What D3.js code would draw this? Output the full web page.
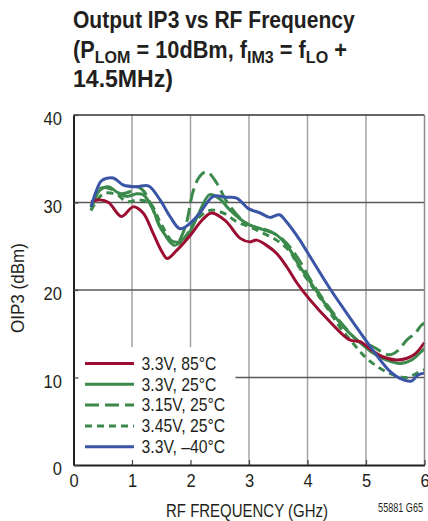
<!DOCTYPE html>
<html><head><meta charset="utf-8">
<script src="https://cdn.jsdelivr.net/npm/d3@7"></script>
<style>
html,body{margin:0;padding:0;background:#fff;}
svg text{font-family:"Liberation Sans",Arial,Helvetica,sans-serif;fill:#231f20;}
</style></head>
<body>
<svg id="chart" width="428" height="521"></svg>
<script>
// ---- data ----
const xTicks = [0,1,2,3,4,5,6];
const yTicks = [0,10,20,30,40];

const red85F = [0.3,0.45,0.6,0.82,1.02,1.19,1.36,1.51,1.6,1.76,1.99,2.2,2.36,2.6,2.85,3.02,3.13,3.3,3.47,3.65,3.82,4.04,4.38,4.72,4.9,5.1,5.27,5.52,5.7,5.84,6.0];
const red85V = [30.1,30.3,30.0,28.4,29.5,28.8,26.5,24.4,23.6,24.5,26.2,28.0,28.8,27.9,25.9,25.5,25.7,25.1,24.2,22.6,20.8,18.9,16.4,14.3,14.1,13.1,12.4,12.0,12.2,12.7,14.0];

const g25F = [0.3,0.45,0.6,0.74,0.91,1.08,1.19,1.34,1.48,1.65,1.8,1.99,2.13,2.33,2.5,2.68,2.96,3.24,3.47,3.7,3.82,4.1,4.38,4.67,4.9,5.12,5.35,5.58,5.78,5.92,6.0];
const g25V = [29.1,31.4,31.8,31.2,30.7,31.0,30.9,29.5,27.2,25.7,25.5,26.7,28.6,30.9,30.4,29.1,27.6,26.9,26.3,24.6,23.2,20.4,17.7,15.4,14.0,12.8,12.0,11.6,12.0,12.8,13.3];

const g315F = [0.3,0.45,0.62,0.8,0.95,1.08,1.2,1.35,1.5,1.73,1.9,2.05,2.16,2.28,2.45,2.62,2.85,3.02,3.36,3.59,3.82,4.1,4.38,4.67,4.9,5.1,5.3,5.41,5.55,5.7,5.84,5.95,6.0];
const g315V = [29.5,31.6,31.6,31.0,31.2,31.8,31.3,29.3,27.0,25.1,27.0,31.4,33.0,33.5,32.2,30.1,28.2,27.4,26.7,25.7,23.8,20.6,17.9,15.5,14.0,13.6,12.8,12.6,13.1,14.3,15.05,16.0,16.2];

const g345F = [0.3,0.51,0.74,0.91,1.11,1.31,1.5,1.75,1.9,2.1,2.33,2.56,2.79,3.02,3.24,3.47,3.7,3.82,4.1,4.38,4.55,4.78,5.01,5.24,5.47,5.7,5.87,6.0];
const g345V = [29.1,31.0,30.9,30.1,30.3,29.9,27.5,25.2,26.0,28.0,29.1,28.8,27.8,27.2,26.5,25.7,24.4,23.0,20.2,17.5,15.8,13.9,12.2,11.05,10.3,10.0,10.5,10.9];

const b40F = [0.3,0.4,0.48,0.68,0.85,1.08,1.28,1.48,1.65,1.82,1.99,2.16,2.39,2.6,2.79,2.99,3.19,3.36,3.52,3.64,3.87,3.99,4.38,4.78,5.12,5.41,5.58,5.78,5.89,6.0];
const b40V = [29.5,31.5,32.5,32.8,32.0,31.8,31.9,30.3,28.4,27.0,27.6,28.8,30.7,30.6,30.5,29.3,28.8,28.3,28.6,27.8,25.7,24.4,20.2,16.3,13.1,10.7,9.9,9.6,10.3,10.5];

const seriesNames = ["3.3V, 85°C","3.3V, 25°C","3.15V, 25°C","3.45V, 25°C","3.3V, \u201340°C"];
const seriesColors = ["#9b0d31","#3b8a4b","#3b8a4b","#3b8a4b","#3a55a5"];
const seriesDash = [null,null,"14,6","7,5",null];

const series = [
  {f:red85F,v:red85V},{f:g25F,v:g25V},{f:g315F,v:g315V},{f:g345F,v:g345V},{f:b40F,v:b40V}
].map((s,i)=>({name:seriesNames[i],color:seriesColors[i],dash:seriesDash[i],
  pts:s.f.map((f,j)=>[f,s.v[j]])}));

// ---- helpers: condense text horizontally to a target width ----
function place(sel, x, y, sx, rot){
  sel.attr("x",0).attr("y",0)
     .attr("transform",`translate(${x},${y})`+(rot?` rotate(${rot})`:"")+` scale(${sx},1)`);
}
function fit(sel, x, y, targetW, rot){
  const w = sel.node().getBBox().width;
  place(sel, x, y, targetW/w, rot);
  return targetW/w;
}

// ---- layout ----
const svg = d3.select("#chart");
const L=73.5, R=424.5, T=115, B=465;
const x = d3.scaleLinear().domain([0,6]).range([L,R]);
const y = d3.scaleLinear().domain([0,40]).range([B,T]);

// title
const title = svg.append("g").attr("font-weight","bold").attr("font-size",23);
fit(title.append("text").text("Output IP3 vs RF Frequency"), 73, 28, 282);
const t2 = title.append("text");
t2.append("tspan").text("(P");
t2.append("tspan").attr("font-size",17).attr("dy",5).text("LOM");
t2.append("tspan").attr("dy",-5).text(" = 10dBm, f");
t2.append("tspan").attr("font-size",17).attr("dy",5).text("IM3");
t2.append("tspan").attr("dy",-5).text(" = f");
t2.append("tspan").attr("font-size",17).attr("dy",5).text("LO");
t2.append("tspan").attr("dy",-5).text(" +");
fit(t2, 73, 58, 274);
fit(title.append("text").text("14.5MHz)"), 73, 87, 100);

// grid
const grid = svg.append("g");
grid.selectAll(".vg").data(xTicks.slice(1,-1)).join("line")
  .attr("x1",d=>x(d)).attr("x2",d=>x(d)).attr("y1",T).attr("y2",B)
  .attr("stroke","#a3a3a3").attr("stroke-width",1.5);
grid.selectAll(".hg").data(yTicks.slice(1,-1)).join("line")
  .attr("x1",L).attr("x2",R).attr("y1",d=>y(d)).attr("y2",d=>y(d))
  .attr("stroke","#5a5a5a").attr("stroke-width",1.5);

// curves
const line = d3.line().x(d=>x(d[0])).y(d=>y(d[1])).curve(d3.curveCatmullRom.alpha(0.5));
const drawOrder = [3,2,1,0,4];
svg.append("g").selectAll("path").data(drawOrder.map(i=>series[i])).join("path")
  .attr("d",d=>line(d.pts)).attr("fill","none")
  .attr("stroke",d=>d.color).attr("stroke-width",3)
  .attr("stroke-dasharray",d=>d.dash)
  .attr("stroke-linejoin","round");

// legend
const lg = svg.append("g");
lg.append("rect").attr("x",L+1).attr("y",347).attr("width",161).attr("height",B-348).attr("fill","#fff");
const rowY = i => 363.5 + i*20.8;
const legTexts = [];
series.forEach((s,i)=>{
  lg.append("line").attr("x1",85).attr("x2",134).attr("y1",rowY(i)).attr("y2",rowY(i))
    .attr("stroke",s.color).attr("stroke-width",3).attr("stroke-dasharray",s.dash);
  legTexts.push(lg.append("text").attr("font-size",17.5).text(s.name));
});
const legScale = 75 / legTexts[1].node().getBBox().width;
legTexts.forEach((t,i)=>place(t, 141.5, rowY(i)+6.3, legScale));

// axes frame
const fr = svg.append("g");
fr.append("line").attr("x1",L).attr("x2",R).attr("y1",T).attr("y2",T).attr("stroke","#333").attr("stroke-width",1.5);
fr.append("line").attr("x1",R).attr("x2",R).attr("y1",T).attr("y2",B).attr("stroke","#8a8a8a").attr("stroke-width",1.5);

const xAxis = d3.axisBottom(x).tickValues(xTicks).tickSizeInner(-5).tickSizeOuter(0).tickFormat(d3.format("d"));
const gx = svg.append("g").attr("transform",`translate(0,${B})`).call(xAxis);
gx.select(".domain").attr("stroke","#231f20").attr("stroke-width",2);
gx.selectAll(".tick line").attr("stroke","#444").attr("stroke-width",1.2);
gx.selectAll(".tick text").attr("font-size",18).attr("fill","#231f20").attr("font-family",null)
  .attr("dy",null).attr("y",null).each(function(){ place(d3.select(this), 0, 21.5, 0.92); });

const yAxis = d3.axisLeft(y).tickValues(yTicks).tickSizeInner(-5).tickSizeOuter(0).tickFormat(d3.format("d"));
const gy = svg.append("g").attr("transform",`translate(${L},0)`).call(yAxis);
gy.select(".domain").attr("stroke","#231f20").attr("stroke-width",2);
gy.selectAll(".tick line").attr("stroke","#444").attr("stroke-width",1.2);
gy.selectAll(".tick text").attr("font-size",18).attr("fill","#231f20").attr("font-family",null)
  .attr("dy",null).attr("x",null).each(function(){ place(d3.select(this), -11.5, 9.5, 0.92); });

// axis titles
fit(svg.append("text").attr("text-anchor","middle").attr("font-size",19).text("RF FREQUENCY (GHz)"), 247, 517, 162);
fit(svg.append("text").attr("text-anchor","middle").attr("font-size",17.5).text("OIP3 (dBm)"), 24, 288, 90, -90);
fit(svg.append("text").attr("text-anchor","end").attr("font-size",12.5).text("55881 G65"), 423, 512, 45);
</script>
</body></html>
